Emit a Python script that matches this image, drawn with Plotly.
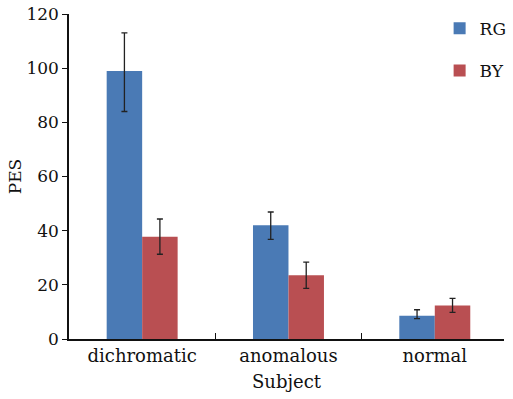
import plotly.graph_objects as go

categories = ["dichromatic", "anomalous", "normal"]
rg_values = [99.0, 42.0, 8.6]
rg_err_plus = [14.0, 4.9, 2.2]
rg_err_minus = [15.0, 5.2, 1.1]
by_values = [37.8, 23.5, 12.4]
by_err_plus = [6.5, 4.9, 2.6]
by_err_minus = [6.5, 4.8, 2.6]

font_family = "DejaVu Serif, serif"
blue = "#4a7ab5"
red = "#b94f52"

fig = go.Figure()
fig.add_trace(go.Bar(
    name="RG", x=categories, y=rg_values, marker_color=blue, marker_line_width=0,
    legendgroup="rg",
    error_y=dict(type="data", symmetric=False, array=rg_err_plus, arrayminus=rg_err_minus,
                 color="#222222", thickness=1.3, width=3),
))
fig.add_trace(go.Bar(
    name="BY", x=categories, y=by_values, marker_color=red, marker_line_width=0,
    legendgroup="by",
    error_y=dict(type="data", symmetric=False, array=by_err_plus, arrayminus=by_err_minus,
                 color="#222222", thickness=1.3, width=3),
))

fig.update_layout(
    width=513, height=399,
    margin=dict(l=69, r=1, t=14, b=60),
    paper_bgcolor="white", plot_bgcolor="white",
    font=dict(family=font_family, size=16, color="#111111"),
    barmode="group", bargap=0.515, bargroupgap=0,
    showlegend=True,
    legend=dict(x=0.852, y=1.01, xanchor="left", yanchor="top",
                font=dict(size=17), traceorder="grouped", tracegroupgap=17,
                itemwidth=30, bgcolor="rgba(0,0,0,0)"),
)
fig.update_xaxes(
    range=[-0.5, 2.473],
    showline=True, linecolor="#111111", linewidth=1.5,
    ticks="inside", tickson="boundaries", ticklen=6, tickcolor="#111111",
    title=dict(text="Subject", font=dict(size=18), standoff=10),
    tickfont=dict(size=18),
)
fig.update_yaxes(
    range=[0, 120], dtick=20, showgrid=False, zeroline=False,
    showline=True, linecolor="#111111", linewidth=1.5,
    ticks="outside", ticklen=5, tickcolor="#111111",
    title=dict(text="PES", font=dict(size=17), standoff=0),
    tickfont=dict(size=17),
)

fig.write_html("out.html", config={"displayModeBar": False},
               post_script="document.body.style.margin='0';")
